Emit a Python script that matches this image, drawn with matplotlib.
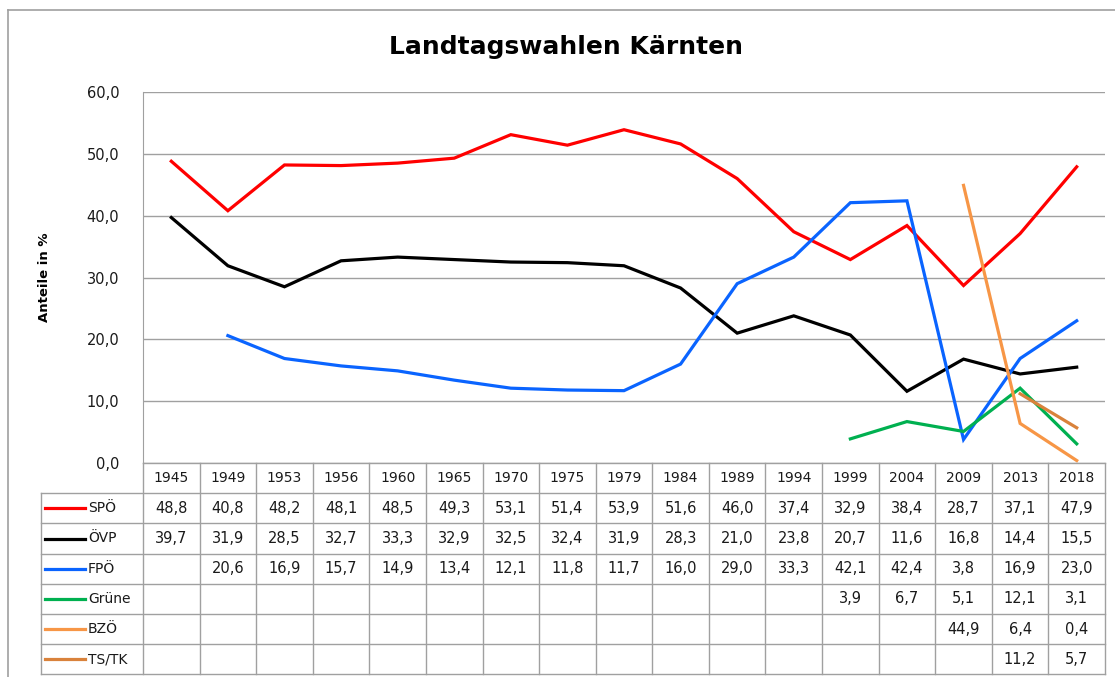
import numpy as np
import matplotlib
matplotlib.use("Agg")
import matplotlib.pyplot as plt
from matplotlib.lines import Line2D

nan = np.nan

jahre = ["1945", "1949", "1953", "1956", "1960", "1965", "1970", "1975", "1979",
         "1984", "1989", "1994", "1999", "2004", "2009", "2013", "2018"]

parteien = ["SPÖ", "ÖVP", "FPÖ", "Grüne", "BZÖ", "TS/TK"]

spoe = [48.8, 40.8, 48.2, 48.1, 48.5, 49.3, 53.1, 51.4, 53.9, 51.6, 46.0, 37.4, 32.9, 38.4, 28.7, 37.1, 47.9]
oevp = [39.7, 31.9, 28.5, 32.7, 33.3, 32.9, 32.5, 32.4, 31.9, 28.3, 21.0, 23.8, 20.7, 11.6, 16.8, 14.4, 15.5]
fpoe = [nan, 20.6, 16.9, 15.7, 14.9, 13.4, 12.1, 11.8, 11.7, 16.0, 29.0, 33.3, 42.1, 42.4, 3.8, 16.9, 23.0]
gruene = [nan] * 12 + [3.9, 6.7, 5.1, 12.1, 3.1]
bzoe = [nan] * 14 + [44.9, 6.4, 0.4]
tstk = [nan] * 15 + [11.2, 5.7]

werte = [spoe, oevp, fpoe, gruene, bzoe, tstk]
farben = ["#FF0000", "#000000", "#0A64FF", "#00B050", "#F79646", "#D9823B"]

W, H = 1115, 677
fig = plt.figure(figsize=(W / 100, H / 100), dpi=100)
grau = "#A0A0A0"
txt = "#1A1A1A"

def fx(px):
    return px / W

def fy(py):
    return 1 - py / H

# Rahmen um das Diagramm
fig.add_artist(Line2D([fx(8), fx(8)], [fy(10), 0], color=grau, lw=1.2))
fig.add_artist(Line2D([fx(8), 1], [fy(10), fy(10)], color=grau, lw=1.2))

fig.text(fx(566), fy(47), "Landtagswahlen Kärnten", ha="center", va="center",
         fontsize=18, fontweight="bold", family="DejaVu Sans")

# Diagrammflaeche
x0, x1, ytop, y0 = 143, 1105, 92, 463
ax = fig.add_axes([fx(x0), fy(y0), fx(x1 - x0), (y0 - ytop) / H])
n = len(jahre)
x = np.arange(n)
for vals, col in zip(werte, farben):
    ax.plot(x, vals, color=col, lw=2.3, solid_joinstyle="miter")
ax.set_xlim(-0.5, n - 0.5)
ax.set_ylim(0, 60)
ax.set_yticks(np.arange(0, 61, 10))
ax.set_yticklabels([f"{v:.1f}".replace(".", ",") for v in np.arange(0, 61, 10)], fontsize=10.5, color=txt)
ax.tick_params(axis="y", length=0, pad=17)
ax.set_xticks([])
ax.grid(axis="y", color=grau, lw=1)
ax.set_axisbelow(True)
for s in ["top", "right", "bottom"]:
    ax.spines[s].set_visible(False)
ax.spines["left"].set_color(grau)
fig.text(fx(45), fy(277), "Anteile in %", rotation=90, ha="center", va="center",
         fontsize=9.5, fontweight="bold")

# Datentabelle
leg_l = 41
cw = (x1 - x0) / n
rh = 30.2
hdr_top = 463
rows_top = hdr_top + rh
bottom = rows_top + rh * len(parteien)

def hline(py, xa, xb):
    fig.add_artist(Line2D([fx(xa), fx(xb)], [fy(py), fy(py)], color=grau, lw=1))

def vline(px, ya, yb):
    fig.add_artist(Line2D([fx(px), fx(px)], [fy(ya), fy(yb)], color=grau, lw=1))

hline(hdr_top, x0, x1)
for i in range(len(parteien) + 1):
    hline(rows_top + i * rh, leg_l, x1)
vline(leg_l, rows_top, bottom)
for j in range(n + 1):
    vline(x0 + j * cw, hdr_top, bottom)

for j, jahr in enumerate(jahre):
    fig.text(fx(x0 + (j + 0.5) * cw), fy(hdr_top + rh / 2), jahr, ha="center", va="center",
             fontsize=10, color=txt)

for i, (name, vals, col) in enumerate(zip(parteien, werte, farben)):
    yc = rows_top + (i + 0.5) * rh
    fig.add_artist(Line2D([fx(45), fx(85)], [fy(yc), fy(yc)], color=col, lw=2.3))
    fig.text(fx(88), fy(yc), name, ha="left", va="center", fontsize=10, color=txt)
    for j, v in enumerate(vals):
        if not np.isnan(v):
            fig.text(fx(x0 + (j + 0.5) * cw), fy(yc), f"{v:.1f}".replace(".", ","),
                     ha="center", va="center", fontsize=10.5, color=txt)

fig.savefig("out.png", dpi=100)
